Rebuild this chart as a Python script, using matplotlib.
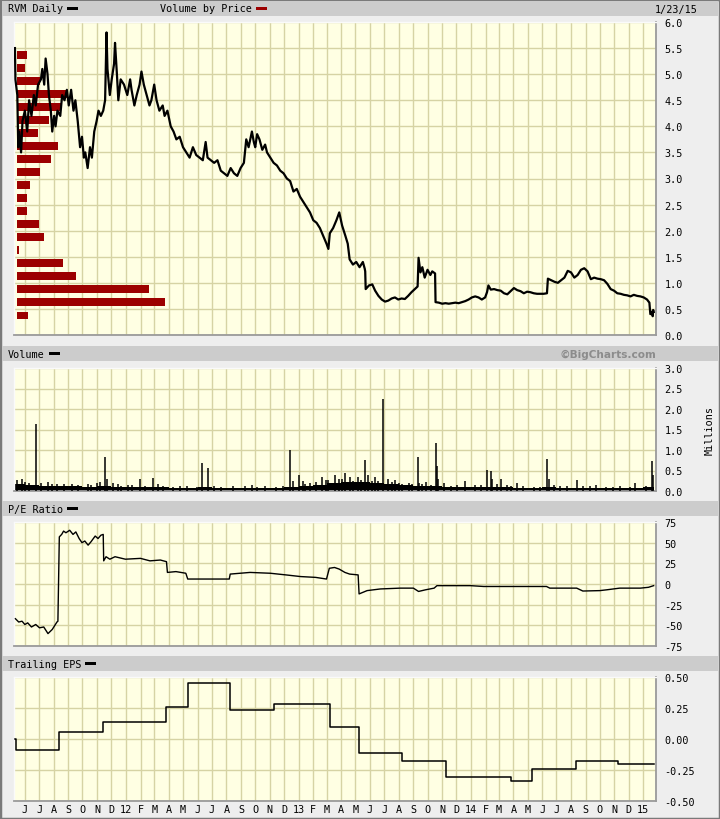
import numpy as np
import matplotlib
matplotlib.use('Agg')
import matplotlib.pyplot as plt
from matplotlib.patches import Rectangle
from matplotlib.transforms import blended_transform_factory
from matplotlib.ticker import FormatStrFormatter
import pandas as pd

plt.rcParams['axes.unicode_minus'] = False

# ---- data ----
price_dates = [
    '2011-05-11', '2011-05-12', '2011-05-16', '2011-05-18', '2011-05-20', '2011-05-24', '2011-05-27',
    '2011-06-01', '2011-06-06', '2011-06-10', '2011-06-15', '2011-06-20', '2011-06-24', '2011-06-29',
    '2011-07-05', '2011-07-08', '2011-07-12', '2011-07-15', '2011-07-19', '2011-07-22', '2011-07-26',
    '2011-07-29', '2011-08-02', '2011-08-05', '2011-08-09', '2011-08-15', '2011-08-19', '2011-08-24',
    '2011-08-29', '2011-09-02', '2011-09-07', '2011-09-12', '2011-09-16', '2011-09-21', '2011-09-26',
    '2011-09-30', '2011-10-04', '2011-10-07', '2011-10-12', '2011-10-17', '2011-10-21', '2011-10-26',
    '2011-10-31', '2011-11-04', '2011-11-09', '2011-11-14', '2011-11-18', '2011-11-21', '2011-11-23',
    '2011-11-28', '2011-12-02', '2011-12-07', '2011-12-09', '2011-12-13', '2011-12-16', '2011-12-21',
    '2011-12-28', '2012-01-04', '2012-01-10', '2012-01-13', '2012-01-19', '2012-01-24', '2012-01-30',
    '2012-02-03', '2012-02-08', '2012-02-14', '2012-02-20', '2012-02-24', '2012-03-01', '2012-03-06',
    '2012-03-12', '2012-03-19', '2012-03-23', '2012-03-29', '2012-04-05', '2012-04-11', '2012-04-17',
    '2012-04-24', '2012-05-01', '2012-05-08', '2012-05-15', '2012-05-22', '2012-05-29', '2012-06-05',
    '2012-06-12', '2012-06-18', '2012-06-22', '2012-06-29', '2012-07-06', '2012-07-13', '2012-07-20',
    '2012-07-27', '2012-08-03', '2012-08-10', '2012-08-17', '2012-08-24', '2012-08-31', '2012-09-07',
    '2012-09-12', '2012-09-17', '2012-09-24', '2012-09-28', '2012-10-01', '2012-10-05', '2012-10-10',
    '2012-10-16', '2012-10-22', '2012-10-26', '2012-11-02', '2012-11-09', '2012-11-16', '2012-11-23',
    '2012-11-30', '2012-12-07', '2012-12-14', '2012-12-21', '2012-12-28', '2013-01-04', '2013-01-11',
    '2013-01-18', '2013-01-25', '2013-02-01', '2013-02-08', '2013-02-15', '2013-02-22', '2013-03-01',
    '2013-03-05', '2013-03-08', '2013-03-15', '2013-03-22', '2013-03-28', '2013-04-03', '2013-04-10',
    '2013-04-15', '2013-04-19', '2013-04-26', '2013-05-03', '2013-05-10', '2013-05-17', '2013-05-21',
    '2013-05-22', '2013-05-23', '2013-05-30', '2013-06-06', '2013-06-12', '2013-06-19', '2013-06-26',
    '2013-07-03', '2013-07-10', '2013-07-17', '2013-07-24', '2013-07-31', '2013-08-07', '2013-08-14',
    '2013-08-21', '2013-08-28', '2013-09-04', '2013-09-10', '2013-09-12', '2013-09-16', '2013-09-20',
    '2013-09-25', '2013-10-01', '2013-10-07', '2013-10-11', '2013-10-17', '2013-10-18', '2013-10-25',
    '2013-11-01', '2013-11-08', '2013-11-15', '2013-11-22', '2013-11-29', '2013-12-06', '2013-12-13',
    '2013-12-20', '2013-12-27', '2014-01-03', '2014-01-10', '2014-01-17', '2014-01-24', '2014-01-31',
    '2014-02-04', '2014-02-07', '2014-02-12', '2014-02-19', '2014-02-26', '2014-03-05', '2014-03-12',
    '2014-03-19', '2014-03-26', '2014-04-02', '2014-04-09', '2014-04-16', '2014-04-23', '2014-04-30',
    '2014-05-07', '2014-05-14', '2014-05-21', '2014-05-28', '2014-06-04', '2014-06-11', '2014-06-13',
    '2014-06-20', '2014-06-27', '2014-07-04', '2014-07-11', '2014-07-18', '2014-07-25', '2014-08-01',
    '2014-08-08', '2014-08-15', '2014-08-22', '2014-08-29', '2014-09-05', '2014-09-12', '2014-09-19',
    '2014-09-26', '2014-10-03', '2014-10-10', '2014-10-17', '2014-10-24', '2014-10-31', '2014-11-07',
    '2014-11-14', '2014-11-21', '2014-11-28', '2014-12-05', '2014-12-12', '2014-12-19', '2014-12-26',
    '2015-01-02', '2015-01-09', '2015-01-14', '2015-01-16', '2015-01-20', '2015-01-21', '2015-01-22',
    '2015-01-23',
]
price_close = [
    5.50, 4.90, 4.60, 3.60, 3.90, 3.50, 4.10,
    4.30, 3.90, 4.50, 4.20, 4.60, 4.40, 4.80,
    4.90, 5.10, 4.80, 5.30, 5.00, 4.60, 4.30,
    3.90, 4.20, 4.00, 4.30, 4.20, 4.60, 4.50,
    4.70, 4.40, 4.70, 4.30, 4.50, 4.10, 3.60,
    3.80, 3.40, 3.50, 3.20, 3.60, 3.40, 3.90,
    4.10, 4.30, 4.20, 4.30, 4.50, 5.80, 5.10,
    4.60, 4.90, 5.20, 5.60, 5.00, 4.50, 4.90,
    4.80, 4.60, 4.90, 4.70, 4.40, 4.60, 4.80,
    5.05, 4.80, 4.60, 4.40, 4.50, 4.80, 4.50,
    4.30, 4.40, 4.20, 4.30, 4.00, 3.90, 3.75,
    3.80, 3.60, 3.50, 3.40, 3.60, 3.45, 3.40,
    3.35, 3.70, 3.40, 3.35, 3.30, 3.35, 3.15,
    3.10, 3.05, 3.20, 3.10, 3.05, 3.20, 3.30,
    3.75, 3.60, 3.90, 3.70, 3.60, 3.85, 3.75,
    3.55, 3.65, 3.50, 3.40, 3.30, 3.25, 3.15,
    3.10, 3.00, 2.95, 2.75, 2.80, 2.65, 2.55,
    2.45, 2.35, 2.20, 2.15, 2.05, 1.90, 1.75,
    1.65, 1.95, 2.05, 2.20, 2.35, 2.10, 1.90,
    1.75, 1.45, 1.35, 1.40, 1.30, 1.40, 1.27,
    1.22, 0.88, 0.95, 0.97, 0.85, 0.75, 0.68,
    0.64, 0.66, 0.70, 0.72, 0.68, 0.70, 0.69,
    0.75, 0.82, 0.88, 0.93, 1.48, 1.20, 1.30,
    1.10, 1.25, 1.15, 1.22, 1.18, 0.63, 0.62,
    0.60, 0.61, 0.60, 0.61, 0.62, 0.61, 0.63,
    0.65, 0.68, 0.72, 0.74, 0.72, 0.68, 0.72,
    0.82, 0.95, 0.87, 0.88, 0.86, 0.85, 0.80,
    0.78, 0.84, 0.90, 0.86, 0.84, 0.80, 0.83,
    0.82, 0.80, 0.79, 0.79, 0.79, 0.80, 1.08,
    1.05, 1.02, 1.00, 1.05, 1.10, 1.23, 1.20,
    1.10, 1.15, 1.25, 1.28, 1.22, 1.07, 1.10,
    1.08, 1.07, 1.05, 0.98, 0.88, 0.85, 0.80,
    0.79, 0.77, 0.76, 0.74, 0.77, 0.75, 0.74,
    0.72, 0.68, 0.62, 0.40, 0.45, 0.36, 0.48,
    0.44,
]

# volume by price (million shares per 0.25 price bin)
vbp_bin_low = [0.25, 0.50, 0.75, 1.00, 1.25, 1.50, 1.75, 2.00, 2.25, 2.50, 2.75,
               3.00, 3.25, 3.50, 3.75, 4.00, 4.25, 4.50, 4.75, 5.00, 5.25]
vbp_volume = [1.1, 14.8, 13.2, 5.9, 4.6, 0.23, 2.7, 2.2, 1.0, 1.0, 1.3,
              2.3, 3.4, 4.1, 2.1, 3.2, 4.4, 5.0, 2.3, 0.83, 1.0]

# daily volume: typical monthly level + the visible spikes (millions)
vol_base_month = pd.date_range('2011-05-01', '2015-01-01', freq='MS')
vol_base = [0.16, 0.15, 0.13, 0.12, 0.11, 0.10, 0.12, 0.10, 0.10, 0.09, 0.09, 0.08,
            0.08, 0.09, 0.07, 0.07, 0.07, 0.07, 0.07, 0.09, 0.12, 0.15, 0.20, 0.22,
            0.22, 0.20, 0.18, 0.15, 0.13, 0.11, 0.09, 0.09, 0.10, 0.10, 0.09, 0.08,
            0.07, 0.09, 0.08, 0.08, 0.07, 0.07, 0.07, 0.07, 0.09]
spike_dates = [
    '2011-05-16', '2011-05-25', '2011-06-10', '2011-06-24', '2011-07-20', '2011-08-08', '2011-09-22',
    '2011-10-12', '2011-10-31', '2011-11-18', '2011-11-21', '2011-12-05', '2011-12-15', '2012-01-13',
    '2012-01-30', '2012-02-27', '2012-03-20', '2012-04-10', '2012-06-11', '2012-06-22', '2012-07-20',
    '2012-09-10', '2012-10-05', '2012-12-13', '2012-12-20', '2013-01-02', '2013-01-10', '2013-01-15',
    '2013-02-20', '2013-03-05', '2013-03-20', '2013-03-28', '2013-04-10', '2013-04-19', '2013-04-26',
    '2013-05-06', '2013-05-22', '2013-05-28', '2013-06-05', '2013-06-12', '2013-06-28', '2013-07-10',
    '2013-07-24', '2013-08-08', '2013-08-22', '2013-09-11', '2013-09-13', '2013-09-27', '2013-10-18',
    '2013-10-21', '2013-10-24', '2013-11-05', '2013-12-02', '2013-12-20', '2014-01-10', '2014-02-04',
    '2014-02-12', '2014-02-14', '2014-03-05', '2014-03-18', '2014-04-08', '2014-05-15', '2014-06-12',
    '2014-06-16', '2014-07-24', '2014-08-13', '2014-09-22', '2014-10-15', '2014-12-15', '2015-01-20',
    '2015-01-21',
    # smaller bumps along the base
    '2011-06-02', '2011-07-06', '2011-07-28', '2011-08-22', '2011-09-08', '2011-10-20', '2011-11-08',
    '2011-12-22', '2012-01-05', '2012-02-10', '2012-03-08', '2012-04-24', '2012-05-10', '2012-05-30',
    '2012-07-05', '2012-08-15', '2012-09-25', '2012-10-22', '2012-11-14', '2012-11-28', '2013-01-24',
    '2013-02-06', '2013-02-28', '2013-04-03', '2013-05-14', '2013-06-19', '2013-07-17', '2013-08-01',
    '2013-08-30', '2013-09-19', '2013-10-08', '2013-11-20', '2014-01-22', '2014-02-25', '2014-03-27',
    '2014-04-22', '2014-05-28', '2014-06-25', '2014-07-09', '2014-08-27', '2014-09-10', '2014-10-28',
    '2014-11-13', '2014-12-03', '2015-01-07',
]
spike_vol = [
    0.27, 0.30, 0.20, 1.63, 0.23, 0.18, 0.15,
    0.17, 0.20, 0.83, 0.30, 0.20, 0.16, 0.14,
    0.30, 0.32, 0.12, 0.10, 0.68, 0.56, 0.10,
    0.12, 0.10, 1.00, 0.25, 0.39, 0.25, 0.18,
    0.34, 0.28, 0.39, 0.30, 0.44, 0.35, 0.25,
    0.35, 0.76, 0.40, 0.25, 0.35, 2.24, 0.30,
    0.28, 0.18, 0.20, 0.83, 0.20, 0.22, 1.17,
    0.60, 0.30, 0.20, 0.15, 0.25, 0.15, 0.51,
    0.48, 0.30, 0.30, 0.15, 0.20, 0.10, 0.78,
    0.30, 0.12, 0.27, 0.15, 0.10, 0.20, 0.73,
    0.40,
    0.22, 0.19, 0.17, 0.16, 0.18, 0.14, 0.21,
    0.13, 0.15, 0.12, 0.16, 0.11, 0.13, 0.10,
    0.12, 0.11, 0.14, 0.12, 0.10, 0.13, 0.20,
    0.22, 0.26, 0.30, 0.28, 0.24, 0.22, 0.19,
    0.16, 0.18, 0.15, 0.13, 0.14, 0.16, 0.13,
    0.12, 0.10, 0.14, 0.12, 0.11, 0.12, 0.10,
    0.11, 0.10, 0.12,
]

pe_dates = [
    '2011-05-12', '2011-05-19', '2011-05-26', '2011-06-01', '2011-06-07', '2011-06-15', '2011-06-24',
    '2011-07-02', '2011-07-11', '2011-07-20', '2011-07-29', '2011-08-08', '2011-08-10', '2011-08-13',
    '2011-08-18', '2011-08-22', '2011-08-27', '2011-09-04', '2011-09-11', '2011-09-17', '2011-09-24',
    '2011-09-30', '2011-10-06', '2011-10-13', '2011-10-19', '2011-10-28', '2011-11-03', '2011-11-09',
    '2011-11-14', '2011-11-15', '2011-11-20', '2011-11-28', '2011-12-09', '2011-12-31', '2012-02-01',
    '2012-02-21', '2012-03-14', '2012-03-27', '2012-03-29', '2012-04-16', '2012-05-07', '2012-05-11',
    '2012-06-06', '2012-07-07', '2012-08-07', '2012-08-09', '2012-09-20', '2012-11-02', '2012-12-05',
    '2013-01-05', '2013-02-06', '2013-03-01', '2013-03-07', '2013-03-18', '2013-03-28', '2013-04-09',
    '2013-04-19', '2013-05-07', '2013-05-09', '2013-05-26', '2013-06-23', '2013-08-04', '2013-09-01',
    '2013-09-12', '2013-09-27', '2013-10-15', '2013-10-21', '2013-12-31', '2014-01-28', '2014-04-15',
    '2014-06-10', '2014-06-17', '2014-08-13', '2014-08-26', '2014-10-01', '2014-10-16', '2014-11-12',
    '2014-12-26', '2015-01-12', '2015-01-23',
]
pe_ratio = [
    -42, -46, -45, -49, -47, -52, -49,
    -53, -52, -60, -55, -46, -45, 57,
    60, 64, 62, 65, 60, 63, 55,
    50, 52, 47, 51, 58, 55, 59,
    60, 28, 33, 30, 33, 30, 31,
    28, 29, 27, 14, 15, 13, 6,
    6, 6, 6, 12, 14, 13, 11,
    9, 8, 6, 19, 20, 18, 14,
    12, 11, -12, -8, -6, -5, -5,
    -9, -7, -5, -2, -2, -3, -3,
    -3, -5, -5, -8.5, -8, -7, -5,
    -5, -4, -2,
]

eps_dates = ['2011-05-12', '2011-05-14', '2011-08-12', '2011-11-13', '2012-03-27', '2012-05-11',
             '2012-08-09', '2012-11-09', '2013-03-08', '2013-05-09', '2013-08-08', '2013-11-09',
             '2014-03-27', '2014-05-11', '2014-08-11', '2014-11-09', '2015-01-23']
eps_value = [0.00, -0.09, 0.06, 0.135, 0.26, 0.455,
             0.23, 0.28, 0.10, -0.115, -0.175, -0.31,
             -0.335, -0.245, -0.175, -0.20, -0.20]

month_ticks = pd.date_range('2011-06-01', '2015-01-01', freq='MS')

# ---- style ----
W, H = 720, 820
MONO = 'DejaVu Sans Mono'
FS = 7.3
BG = '#EEEEEE'
HEAD = '#CCCCCC'
PLOT_BG = '#FFFFE3'
GRID = '#D6D3A4'
RED = '#9C0000'
X0, X1 = 14, 656


def fx(px):
    return px / W


def fy(py):
    return 1 - py / H


fig = plt.figure(figsize=(7.2, 8.2), dpi=100, facecolor=BG)
fig.patches.append(Rectangle((0, 0), 1, 1, transform=fig.transFigure, fill=False,
                             ec='#7A7A7A', lw=2.5, zorder=0))


def header(y0, y1, label, swatch_x, swatch_col='black'):
    fig.patches.append(Rectangle((fx(2), fy(y1)), fx(716), (y1 - y0) / H, transform=fig.transFigure,
                                 fc=HEAD, ec='none', zorder=0))
    yc = (y0 + y1) / 2
    fig.text(fx(8), fy(yc), label, family=MONO, fontsize=FS, va='center', ha='left')
    fig.patches.append(Rectangle((fx(swatch_x), fy(yc + 1.5)), fx(11), 3 / H, transform=fig.transFigure,
                                 fc=swatch_col, ec='none', zorder=1))


def panel(top, bottom, ylim, step, fmt):
    ax = fig.add_axes([fx(X0), fy(bottom), fx(X1 - X0), (bottom - top) / H])
    ax.set_facecolor(PLOT_BG)
    ax.set_xlim(pd.Timestamp('2011-05-09'), pd.Timestamp('2015-01-28'))
    ax.set_ylim(*ylim)
    ax.set_yticks(np.arange(ylim[0], ylim[1] + step / 2, step))
    ax.yaxis.set_major_formatter(FormatStrFormatter(fmt))
    ax.yaxis.tick_right()
    ax.set_xticks(month_ticks)
    ax.set_xticklabels([])
    ax.tick_params(axis='both', length=0, labelsize=FS, labelfontfamily=MONO)
    ax.tick_params(axis='y', pad=6)
    ax.tick_params(axis='x', pad=2)
    ax.grid(True, color=GRID, lw=1.0, zorder=0)
    ax.set_axisbelow(True)
    for s in ('top', 'left'):
        ax.spines[s].set_color('#FAFAFA')
        ax.spines[s].set_linewidth(1.0)
    for s in ('bottom', 'right'):
        ax.spines[s].set_color('#9A9A9A')
        ax.spines[s].set_linewidth(1.3)
    return ax


# price panel
header(2, 17, 'RVM Daily', 67)
fig.text(fx(160), fy(9.5), 'Volume by Price', family=MONO, fontsize=FS, va='center', ha='left')
fig.patches.append(Rectangle((fx(256), fy(11)), fx(11), 3 / H, transform=fig.transFigure,
                             fc=RED, ec='none', zorder=1))
fig.text(fx(698), fy(9.5), '1/23/15', family=MONO, fontsize=FS, va='center', ha='right')

axp = panel(23, 336, (0, 6), 0.5, '%.1f')
tr = blended_transform_factory(axp.transAxes, axp.transData)
vbp = np.array(vbp_volume)
vbp_frac = vbp / vbp.max() * 0.231
axp.barh(np.array(vbp_bin_low) + 0.125, vbp_frac, height=0.15, left=0.0045,
         color=RED, transform=tr, zorder=2)
axp.plot(pd.to_datetime(price_dates), price_close, color='black', lw=1.6, zorder=3)

# volume panel
header(347, 362, 'Volume', 49)
fig.text(fx(656), fy(355), '\u00a9BigCharts.com', family='DejaVu Sans', fontsize=7.6,
         fontweight='bold', color='#8C8C8C', va='center', ha='right')
axv = panel(369, 492, (0, 3), 0.5, '%.1f')
base_x = list(vol_base_month) + [pd.Timestamp('2015-01-24')]
base_y = vol_base + [vol_base[-1]]
axv.fill_between(base_x, base_y, step='post', color='black', lw=0, zorder=2)
axv.vlines(pd.to_datetime(spike_dates), 0, spike_vol, color='black', lw=1.1, zorder=3)
fig.text(fx(710), fy(431), 'Millions', family=MONO, fontsize=FS, rotation=90, va='center', ha='center')

# P/E panel
header(502, 517, 'P/E Ratio', 67)
axe = panel(523, 647, (-75, 75), 25, '%d')
axe.plot(pd.to_datetime(pe_dates), pe_ratio, color='black', lw=1.0, zorder=3)

# trailing EPS panel
header(657, 672, 'Trailing EPS', 85)
axs = panel(678, 802, (-0.5, 0.5), 0.25, '%.2f')
axs.plot(pd.to_datetime(eps_dates), eps_value, color='black', lw=1.1, drawstyle='steps-post', zorder=3)
axs.set_xticklabels([str(d.year)[2:] if d.month == 1 else d.strftime('%b')[0] for d in month_ticks])

fig.savefig('out.png', dpi=100, facecolor=BG)
